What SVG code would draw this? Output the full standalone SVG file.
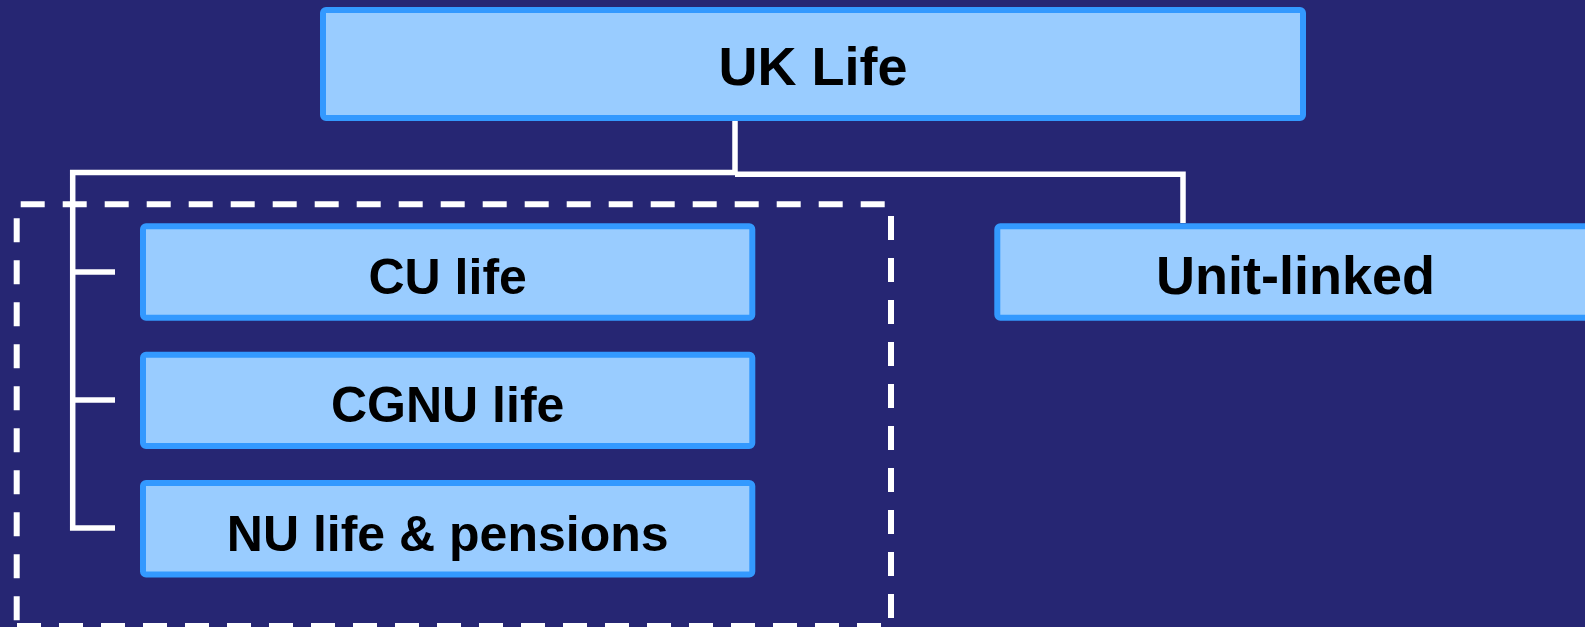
<svg xmlns="http://www.w3.org/2000/svg" width="1585" height="627" viewBox="0 0 1585 627">
<style>
.box{fill:#99CCFF;stroke:#3399FF;stroke-width:6}
.lbl{font-family:"Liberation Sans",Arial,sans-serif;font-weight:bold;fill:#000;text-anchor:middle}
.conn{fill:none;stroke:#FFFFFF;stroke-width:5.5}
.group{fill:none;stroke:#FFFFFF;stroke-width:6;stroke-dasharray:24 18}
</style>
<rect x="0" y="0" width="1585" height="627" fill="#262673"/>
<g id="group-frame">
<path class="group" d="M16.7,204.3 H891 V626 H16.7" stroke-dashoffset="38"/>
<path class="group" d="M16.7,204.3 V626" stroke-dashoffset="28"/>
</g>
<g id="connectors">
<polyline class="conn" points="735,121 735,172.5 72.7,172.5 72.7,528 115,528"/>
<line class="conn" x1="72.7" y1="272" x2="115" y2="272"/>
<line class="conn" x1="72.7" y1="400" x2="115" y2="400"/>
<polyline class="conn" points="735,174.3 1183,174.3 1183,223"/>
</g>
<g id="uk-life">
<rect class="box" x="323" y="10" width="980" height="108" rx="3"/>
<text class="lbl" x="813" y="85" font-size="54">UK Life</text>
</g>
<g id="cu-life">
<rect class="box" x="143" y="226.3" width="609.3" height="91.4" rx="3"/>
<text class="lbl" x="447.7" y="294" font-size="50">CU life</text>
</g>
<g id="cgnu-life">
<rect class="box" x="143" y="354.7" width="609.3" height="91.4" rx="3"/>
<text class="lbl" x="447.7" y="422.4" font-size="50">CGNU life</text>
</g>
<g id="nu-life-pensions">
<rect class="box" x="143" y="483.1" width="609.3" height="91.4" rx="3"/>
<text class="lbl" x="447.7" y="550.6" font-size="50">NU life &amp; pensions</text>
</g>
<g id="unit-linked">
<rect class="box" x="997.3" y="226.3" width="600" height="91.4" rx="3"/>
<text class="lbl" x="1295.5" y="293.5" font-size="54">Unit-linked</text>
</g>
</svg>
